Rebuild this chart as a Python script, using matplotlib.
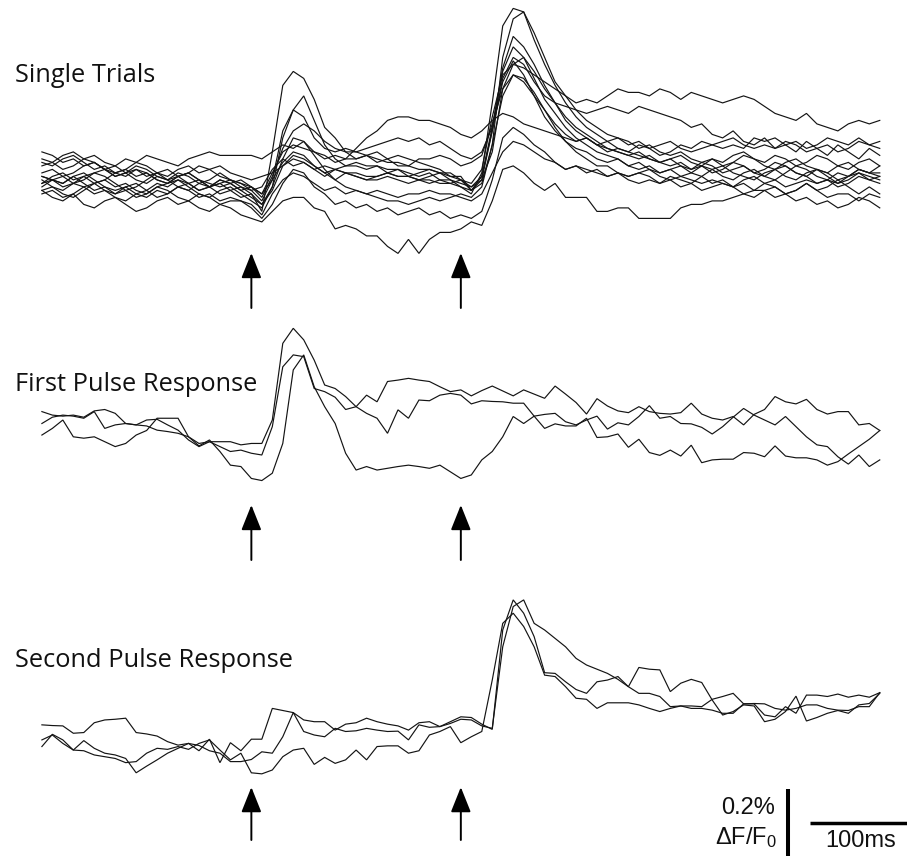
import numpy as np
import matplotlib
matplotlib.use("Agg")
import matplotlib.pyplot as plt

# ---- time base -------------------------------------------------------------
frame_ms = 10
n_frames = 81
t_ms = np.arange(n_frames) * frame_ms
stim_ms = [200, 400]          # first and second pulse

# ---- ΔF/F traces (units of 0.01 % ΔF/F) ------------------------------------
trial_01 = [2, 3, 1, 2, 4, 5, 3, 1, 2, 0,
            -1, 1, 0, -2, -3, -1, -2, -4, -3, -5,
            -4, -9, 8, 27, 31, 29, 23, 15, 12, 8,
            6, 7, 5, 6, 4, 4, 3, 3, 2, 2,
            0, -2, 1, 14, 28, 34, 30, 24, 18, 14,
            11, 9, 8, 6, 5, 6, 4, 3, 4, 2,
            3, 4, 2, 1, 3, 4, 2, 1, 0, 2,
            3, 1, 0, 2, 3, 1, -1, 0, 2, 1,
            0]
trial_02 = [-3, -2, -4, -5, -3, -1, 0, -2, -1, -3,
            -4, -2, -1, 0, -2, -4, -5, -3, -2, -4,
            -6, -8, -2, 12, 20, 24, 17, 10, 6, 4,
            5, 4, 4, 3, 3, 2, 1, 2, 0, 0,
            -2, -4, 2, 22, 44, 49, 48, 40, 33, 27,
            22, 18, 15, 13, 11, 9, 8, 7, 6, 5,
            6, 4, 3, 5, 4, 2, 3, 4, 2, 3,
            5, 4, 2, 1, 3, 2, 0, 1, 3, 2,
            1]
trial_03 = [4, 5, 3, 4, 6, 5, 3, 2, 3, 1,
            2, 0, -1, 1, 2, 0, -2, -1, 0, -2,
            -3, -6, 0, 14, 20, 18, 12, 9, 8, 9,
            8, 7, 8, 6, 7, 6, 5, 4, 3, 1,
            1, -3, -1, 10, 35, 46, 48, 42, 35, 28,
            24, 20, 17, 15, 13, 12, 11, 9, 10, 8,
            7, 8, 6, 5, 6, 4, 5, 7, 6, 4,
            3, 5, 6, 4, 3, 2, 4, 5, 3, 2,
            4]
trial_04 = [-1, 0, -2, -1, 1, 2, 3, 1, 2, 4,
            3, 1, 0, 2, 1, -1, 0, 2, 0, -1,
            -2, -5, 1, 9, 14, 16, 14, 11, 9, 8,
            8, 9, 10, 11, 12, 11, 12, 10, 11, 9,
            7, 6, 8, 15, 32, 41, 38, 33, 27, 22,
            18, 15, 13, 11, 9, 8, 7, 8, 6, 5,
            6, 7, 5, 4, 6, 5, 7, 8, 6, 5,
            7, 6, 4, 5, 7, 6, 4, 3, 5, 6,
            4]
trial_05 = [0, -2, -3, -1, -2, -4, -3, -5, -6, -4,
            -3, -1, -2, 0, -1, -3, -2, 0, -1, 0,
            -2, -4, 0, 5, 8, 7, 4, 2, 0, 2,
            1, 0, 0, 1, 0, -1, 0, -1, 0, -1,
            0, -3, 1, 15, 31, 38, 35, 29, 23, 19,
            15, 12, 10, 8, 7, 6, 4, 5, 3, 2,
            3, 1, 2, 4, 3, 1, 0, 2, 3, 1,
            0, 2, 4, 3, 1, 0, -1, 1, 2, 0,
            -1]
trial_06 = [5, 4, 6, 7, 5, 3, 4, 2, 3, 5,
            4, 2, 1, 3, 4, 2, 3, 4, 2, 1,
            0, 1, 2, 4, 6, 5, 3, 1, 3, 2,
            1, 0, 1, 2, 1, 1, 0, 1, 2, 0,
            -1, -2, 0, 8, 26, 33, 35, 31, 26, 22,
            17, 14, 12, 10, 9, 8, 7, 6, 7, 5,
            4, 5, 3, 4, 2, 3, 5, 4, 2, 1,
            3, 4, 2, 1, -1, 0, 2, 1, 3, 2,
            2]
trial_07 = [-2, 0, 1, -1, 0, 2, 1, -1, -3, -2,
            0, 2, 3, 1, 2, 4, 3, 1, 0, -1,
            -3, -2, 3, 6, 4, 5, 3, 4, 3, 4,
            4, 3, 4, 2, 3, 1, 2, 3, 2, 1,
            0, -1, 3, 18, 30, 33, 32, 30, 28, 26,
            24, 22, 23, 22, 24, 26, 25, 25, 24, 26,
            25, 23, 25, 24, 23, 22, 23, 24, 23, 21,
            19, 18, 17, 19, 16, 15, 14, 16, 17, 16,
            17]
trial_08 = [1, 0, -1, 1, 2, 0, -2, -3, -2, -4,
            -5, -3, -4, -2, -1, -3, -2, 0, -1, -3,
            -2, -4, 2, 8, 10, 9, 8, 7, 5, 6,
            9, 12, 14, 17, 18, 18, 17, 17, 16, 15,
            13, 12, 14, 17, 19, 18, 16, 15, 14, 13,
            12, 11, 12, 10, 11, 12, 10, 11, 9, 10,
            11, 9, 8, 9, 10, 11, 12, 10, 9, 10,
            9, 11, 10, 8, 9, 10, 8, 9, 11, 10,
            11]
trial_09 = [-3, -5, -6, -4, -7, -8, -6, -5, -7, -9,
            -8, -6, -5, -7, -6, -8, -9, -7, -8, -10,
            -11, -12, -9, -6, -5, -5, -8, -9, -14, -13,
            -14, -16, -16, -19, -21, -17, -21, -17, -15, -15,
            -14, -12, -13, -6, 3, 4, 2, -1, -3, -1,
            -5, -5, -5, -9, -9, -8, -8, -11, -11, -11,
            -11, -8, -7, -7, -6, -6, -5, -4, -5, -3,
            -5, -4, -6, -5, -7, -6, -8, -7, -5, -6,
            -8]
trial_10 = [1, 0, -1, 1, -1, -3, -2, -4, -3, -5,
            -4, -2, -3, -5, -6, -4, -5, -7, -6, -6,
            -8, -11, -7, -1, 3, 2, -2, -4, -7, -6,
            -8, -7, -9, -8, -10, -9, -8, -10, -9, -11,
            -10, -11, -9, 0, 12, 15, 13, 10, 8, 5,
            3, 4, 2, 3, 1, 2, 0, -1, 0, -1,
            1, 0, -1, -3, -2, -1, -2, -4, -3, -3,
            -2, -4, -3, -1, -3, -5, -4, -4, -6, -4,
            -5]
trial_11 = [-4, -3, -5, -4, -2, -1, -3, -4, -2, -1,
            -3, -5, -4, -2, -3, -5, -4, -6, -5, -6,
            -7, -10, -4, 0, 2, 1, -1, -3, -2, -4,
            -3, -4, -3, -4, -5, -4, -4, -3, -4, -4,
            -5, -6, -4, 2, 8, 11, 10, 8, 6, 5,
            3, 4, 3, 2, 1, 2, 1, 2, 3, 1,
            0, 1, 0, -1, 0, -1, -2, 0, 1, -1,
            0, -2, -1, 0, -1, 0, -2, -1, 1, 0,
            1]
trial_12 = [6, 5, 7, 8, 6, 7, 5, 4, 6, 5,
            7, 6, 5, 4, 6, 7, 8, 7, 7, 7,
            7, 6, 8, 10, 9, 11, 8, 6, 7, 6,
            6, 7, 6, 5, 5, 4, 6, 6, 7, 6,
            4, 5, 7, 16, 26, 30, 28, 24, 20, 16,
            13, 11, 12, 10, 8, 9, 8, 10, 9, 7,
            8, 10, 9, 11, 10, 9, 10, 9, 12, 11,
            12, 10, 11, 9, 10, 12, 11, 10, 12, 10,
            9]
trial_13 = [8, 7, 5, 6, 4, 5, 3, 4, 2, 3,
            1, 2, 0, 1, -1, 0, -2, -1, -3, -2,
            -4, -7, -2, 6, 12, 11, 7, 3, 0, -2,
            -3, -4, -5, -6, -6, -7, -6, -5, -6, -5,
            -4, -5, -2, 10, 24, 30, 29, 25, 20, 15,
            11, 8, 6, 4, 4, 2, 1, 2, 1, -1,
            0, -2, -1, 1, -1, 0, -2, -1, -3, -1,
            -2, -4, -3, -1, -3, -2, 0, -2, -4, -2,
            -4]
trial_14 = [-1, 1, 2, 0, 1, -1, 0, 2, 1, 3,
            2, 0, -1, 1, 2, 0, -1, -2, -1, -3,
            -5, -7, -3, 4, 7, 6, 4, 2, 3, 2,
            2, 1, 1, 2, 1, 1, 0, 0, -1, -1,
            -2, -3, 0, 14, 29, 35, 33, 28, 24, 22,
            21, 20, 19, 20, 21, 20, 19, 21, 20, 19,
            18, 17, 15, 16, 13, 12, 14, 11, 10, 12,
            9, 10, 8, 11, 9, 7, 10, 8, 6, 9,
            7]

first_a = [-1.0, 0.8, 1.4, 1.1, 0.5, 2.4, -2.4, -1.4, -1.0, -1.4,
           -1.7, -2.9, -3.3, -3.8, -4.8, -7.4, -5.7, -9.0, -12.9, -13.3,
           -16.7, -17.3, -15.2, -6.7, 14.3, 18.6, 9.5, 3.8, -1.0, -9.5,
           -14.3, -13.3, -14.3, -13.8, -13.3, -12.9, -13.3, -13.8, -12.9, -14.8,
           -16.7, -15.7, -11.4, -9.0, -4.8, 1.0, -1.0, 1.1, 1.6, 1.9,
           -0.5, -1.4, 0.0, 1.1, -2.6, -0.8, -1.4, 1.0, 4.1, 0.5,
           1.0, -1.0, -1.1, -2.1, -4.0, -1.9, 0.8, 3.3, 1.4, 0.0,
           -1.4, 1.0, -1.9, -4.8, -7.1, -7.6, -10.5, -12.6, -10.0, -13.3,
           -11.4]
first_b = [-4.3, -2.4, 0.0, -4.8, -5.2, -4.8, -6.2, -7.6, -6.7, -4.3,
           -3.0, 0.5, 0.5, 0.5, -4.8, -6.7, -6.2, -7.6, -9.0, -8.6,
           -9.5, -10.0, -1.9, 15.2, 18.6, 18.1, 9.0, 8.1, 6.5, 3.0,
           3.8, 1.9, 0.5, -3.8, 2.9, 0.5, 5.7, 5.5, 7.1, 7.6,
           7.1, 4.6, 5.5, 5.3, 5.2, 4.8, 4.8, 1.1, -2.4, -1.1,
           -1.7, -1.7, 0.5, -5.0, -4.8, -4.0, -7.8, -5.5, -9.3, -10.1,
           -8.6, -10.3, -7.2, -12.2, -11.4, -11.2, -11.2, -9.3, -9.5, -10.5,
           -7.4, -10.3, -10.8, -10.8, -11.4, -12.9, -11.9, -9.7, -7.6, -5.5,
           -3.0]
first_c = [2.4, 1.4, 1.1, 1.4, 0.8, 2.6, 3.0, 1.9, -1.0, -1.4,
           0.0, 0.2, -1.4, -2.9, -5.7, -7.6, -6.2, -6.2, -6.2, -7.1,
           -6.7, -6.7, 0.0, 21.9, 26.2, 22.9, 17.1, 10.0, 9.0, 6.7,
           3.8, 7.1, 5.2, 11.0, 11.4, 11.9, 11.4, 11.0, 9.5, 8.1,
           8.6, 6.9, 8.4, 9.7, 8.3, 6.9, 8.6, 7.4, 6.2, 9.7,
           7.4, 5.0, 1.7, 6.1, 4.0, 2.6, 2.1, 3.8, 2.4, 1.9,
           1.7, 2.1, 4.8, 1.7, 0.5, 0.0, 1.0, -1.4, 1.6, 3.0,
           6.7, 5.2, 4.6, 5.9, 3.0, 1.7, 2.4, 2.4, -1.4, -1.0,
           -3.0]

second_a = [2.9, 2.7, 2.6, 0.5, 0.7, 3.5, 4.3, 4.5, 4.8, 0.7,
            0.3, -0.3, -1.9, -2.9, -2.4, -4.5, -1.2, -7.9, -2.2, -4.5,
            -1.2, -1.2, 7.6, 7.0, 6.4, 4.3, 3.8, 3.8, 1.4, 3.1,
            3.5, 4.8, 3.8, 3.1, 2.6, 1.4, 3.5, 3.8, 2.4, 3.8,
            5.2, 5.0, 3.1, 1.6, 30.0, 38.6, 34.8, 28.1, 17.8, 17.6,
            15.2, 13.0, 11.9, 15.2, 15.7, 16.7, 13.8, 19.3, 18.8, 18.6,
            12.4, 14.8, 15.9, 15.0, 10.0, 5.7, 6.7, 8.6, 8.3, 3.8,
            4.5, 6.7, 11.1, 4.0, 5.0, 6.2, 7.0, 6.2, 8.6, 9.0,
            11.9]
second_b = [-3.3, 0.2, -1.4, -4.3, -1.6, -3.8, -5.2, -5.7, -6.7, -10.8,
            -8.9, -7.1, -5.2, -3.8, -2.4, -3.0, -4.5, -5.2, -7.6, -7.6,
            -7.0, -4.8, -5.2, -0.5, 6.4, 1.0, 0.0, -0.5, 1.9, 1.0,
            1.2, 1.9, 1.4, 1.0, 1.1, -1.4, 2.9, 2.2, 2.4, 3.3,
            4.5, 4.3, 2.6, 1.9, 25.2, 36.7, 38.6, 31.9, 30.0, 27.6,
            25.2, 21.9, 20.0, 18.8, 17.6, 15.9, 13.8, 11.9, 11.9, 11.0,
            8.1, 8.3, 8.3, 8.1, 10.2, 11.0, 11.9, 8.9, 9.0, 8.9,
            7.6, 7.1, 7.6, 8.6, 8.6, 7.6, 7.1, 7.0, 8.1, 8.1,
            12.1]
second_c = [-1.4, 0.0, -2.4, -4.3, -4.5, -5.7, -6.2, -6.7, -7.9, -7.6,
            -5.2, -3.8, -4.1, -3.3, -4.1, -2.4, -1.4, -4.3, -7.1, -5.2,
            -10.8, -11.1, -10.0, -6.2, -4.3, -3.8, -8.4, -6.4, -8.1, -7.1,
            -4.3, -7.1, -3.3, -3.1, -3.1, -5.2, -4.5, 0.0, 1.0, 2.4,
            -2.2, -0.5, 1.0, 15.7, 31.9, 34.8, 31.0, 25.2, 17.1, 16.7,
            13.8, 10.5, 10.2, 7.6, 9.2, 9.2, 9.2, 8.6, 7.6, 6.7,
            7.6, 8.3, 7.6, 7.6, 7.1, 6.2, 6.2, 8.9, 8.9, 5.7,
            5.2, 8.1, 6.2, 11.4, 11.4, 11.0, 11.7, 10.8, 11.4, 10.8,
            12.1]

single_trials = [trial_01, trial_02, trial_03, trial_04, trial_05, trial_06,
                 trial_07, trial_08, trial_09, trial_10, trial_11, trial_12,
                 trial_13, trial_14]
first_pulse = [first_a, first_b, first_c]
second_pulse = [second_a, second_b, second_c]

panel_titles = ["Single Trials", "First Pulse Response", "Second Pulse Response"]

# ---- layout ----------------------------------------------------------------
UNIT = 0.01                                   # data unit in % ΔF/F
panel_base = [-0.514, -1.20, -2.10]           # vertical offset of each panel (%)
arrow_tip = [-0.209, -0.243, -0.149]          # arrow tip relative to panel base
arrow_tail = [-0.366, -0.400, -0.300]
title_y = [0.904, 0.543, 0.221]               # title baselines (figure fraction)

scale_pct = 0.2
scale_ms = 100

fig = plt.figure(figsize=(9.07, 8.56), dpi=100)
ax = fig.add_axes([0, 0, 1, 1])
ax.set_xlim(-40, 826)
ax.set_ylim(-856 / 350, 0)
ax.axis("off")

line_kw = dict(color="#141414", lw=0.85, solid_joinstyle="miter")

groups = [single_trials, first_pulse, second_pulse]
for base, traces in zip(panel_base, groups):
    for tr in traces:
        ax.plot(t_ms, base + np.asarray(tr) * UNIT, **line_kw)

# stimulus arrows
for base, tip, tail in zip(panel_base, arrow_tip, arrow_tail):
    for s in stim_ms:
        ax.annotate("", xy=(s, base + tip), xytext=(s, base + tail),
                    arrowprops=dict(arrowstyle="-|>,head_length=1.55,head_width=0.62",
                                    mutation_scale=10, lw=1.4, color="black",
                                    shrinkA=0, shrinkB=0))

# panel titles
for title, ty in zip(panel_titles, title_y):
    fig.text(0.0165, ty, title, fontsize=18.3, family="Open Sans",
             color="#111111", va="baseline", ha="left")

# scale bars
bar_x = 712
bar_top = -2.254
ax.plot([bar_x, bar_x], [bar_top, bar_top - scale_pct], color="black",
        lw=2.9, solid_capstyle="butt")
hbar_x0 = 733.5
hbar_y = -2.35
ax.plot([hbar_x0, hbar_x0 + scale_ms], [hbar_y, hbar_y], color="black",
        lw=2.5, solid_capstyle="butt")

txt_kw = dict(family="Liberation Sans", fontsize=17, color="#111111")
ax.text(700, -2.309, "0.2%", ha="right", va="center", **txt_kw)
ax.text(702, -2.392, r"ΔF/F$\mathregular{_0}$", ha="right", va="center", **txt_kw)
ax.text(hbar_x0 + scale_ms / 2 - 2, -2.402, "100ms", ha="center", va="center", **txt_kw)

fig.savefig("out.png", dpi=100, facecolor="white")
